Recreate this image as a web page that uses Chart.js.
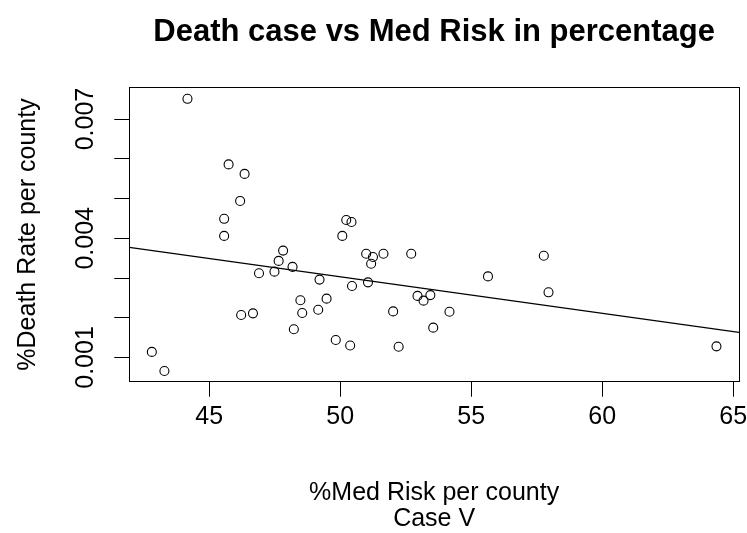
<!DOCTYPE html>
<html>
<head>
<meta charset="utf-8">
<title>Death case vs Med Risk in percentage</title>
<script src="https://cdn.jsdelivr.net/npm/chart.js@4.4.1/dist/chart.umd.min.js"></script>
<style>
	html, body { margin: 0; padding: 0; background: #fff; }
	canvas { display: block; }
</style>
</head>
<body>
<canvas id="risk-chart" width="747" height="533"></canvas>
<script>
// county values: % med risk (x) and % death rate (y)
const medRisk = [
	44.17, 45.74, 46.35, 46.18, 45.57, 45.57, 50.23, 50.43, 50.08, 47.82,
	47.65, 48.18, 46.90, 47.49, 49.21, 50.45, 50.99, 51.25, 51.18, 51.65,
	52.71, 51.06, 52.95, 53.18, 53.44, 48.48, 49.48, 49.16, 48.55, 46.22,
	46.67, 48.23, 49.83, 50.38, 52.23, 52.02, 53.55, 42.81, 43.29, 54.17,
	55.64, 57.77, 57.95, 64.36
];
const deathRate = [
	0.00751, 0.00586, 0.00562, 0.00494, 0.00449, 0.00406, 0.00446, 0.00441, 0.00406, 0.00369,
	0.00343, 0.00328, 0.00312, 0.00316, 0.00296, 0.00280, 0.00361, 0.00353, 0.00336, 0.00361,
	0.00361, 0.00289, 0.00255, 0.00243, 0.00257, 0.00244, 0.00248, 0.00220, 0.00212, 0.00207,
	0.00211, 0.00171, 0.00144, 0.00130, 0.00127, 0.00216, 0.00175, 0.00114, 0.00066, 0.00215,
	0.00304, 0.00356, 0.00264, 0.00128
];

// fitted line, end to end across the plot
const fitX = [41.95, 65.22];
const fitY = [0.00377, 0.00163];

// axes
const xLimits = [41.95, 65.22];
const yLimits = [0.00039, 0.0078];
const xTicks = [45, 50, 55, 60, 65];
const xTickLabels = ['45', '50', '55', '60', '65'];
const yTicks = [0.001, 0.002, 0.003, 0.004, 0.005, 0.006, 0.007];
const yTickLabels = ['0.001', '', '', '0.004', '', '', '0.007'];

const FONT = "'Liberation Sans', Arial, sans-serif";

const points = medRisk.map(function (x, i) {
	return { x: x, y: deathRate[i] };
});
const fitLine = fitX.map(function (x, i) {
	return { x: x, y: fitY[i] };
});

// box round the plotting region
const plotBox = {
	id: 'plotBox',
	afterDraw: function (chart) {
		const a = chart.chartArea;
		const ctx = chart.ctx;
		ctx.save();
		ctx.strokeStyle = '#000';
		ctx.lineWidth = 1;
		ctx.strokeRect(Math.round(a.left) + 0.5, Math.round(a.top) + 0.5,
			Math.round(a.right - a.left), Math.round(a.bottom - a.top));
		ctx.restore();
	}
};

const ctx = document.getElementById('risk-chart').getContext('2d');
const chart = new Chart(ctx, {
	type: 'scatter',
	data: {
		datasets: [{
			label: 'counties',
			data: points,
			pointStyle: 'circle',
			pointRadius: 4.5,
			pointBorderWidth: 1.1,
			borderColor: '#000',
			backgroundColor: 'rgba(0,0,0,0)'
		}, {
			label: 'fit',
			type: 'line',
			data: fitLine,
			showLine: true,
			pointRadius: 0,
			borderWidth: 1.2,
			borderColor: '#000',
			fill: false
		}]
	},
	options: {
		responsive: false,
		animation: false,
		devicePixelRatio: 1,
		layout: { padding: { left: 0, right: 8, top: 0, bottom: 0 } },
		plugins: {
			legend: { display: false },
			tooltip: { enabled: false },
			title: {
				display: true,
				text: 'Death case vs Med Risk in percentage',
				fullSize: false,
				color: '#000',
				font: { family: FONT, size: 31, weight: 'bold', lineHeight: 1.2 },
				padding: { top: 14, bottom: 36.1 }
			}
		},
		scales: {
			x: {
				type: 'linear',
				min: xLimits[0],
				max: xLimits[1],
				afterBuildTicks: function (scale) {
					scale.ticks = xTicks.map(function (v) { return { value: v }; });
				},
				afterFit: function (scale) {
					scale.height = 151.3;
					scale.paddingLeft = 0;
					scale.paddingRight = 0;
				},
				border: { display: false },
				grid: { drawOnChartArea: false, drawTicks: true, tickLength: 15, color: '#000', lineWidth: 1 },
				ticks: {
					color: '#000',
					padding: 5,
					maxRotation: 0,
					autoSkip: false,
					font: { family: FONT, size: 25 },
					callback: function (value, index) { return xTickLabels[index]; }
				},
				title: {
					display: true,
					text: ['%Med Risk per county', 'Case V'],
					color: '#000',
					font: { family: FONT, size: 25, lineHeight: 1.04 },
					padding: { top: 0, bottom: 1 }
				}
			},
			y: {
				type: 'linear',
				min: yLimits[0],
				max: yLimits[1],
				afterBuildTicks: function (scale) {
					scale.ticks = yTicks.map(function (v) { return { value: v }; });
				},
				afterFit: function (scale) {
					scale.width = 129.3;
					scale.paddingTop = 0;
					scale.paddingBottom = 0;
				},
				border: { display: false },
				grid: { drawOnChartArea: false, drawTicks: true, tickLength: 15, color: '#000', lineWidth: 1 },
				ticks: {
					color: '#000',
					padding: -3,
					minRotation: 90,
					maxRotation: 90,
					crossAlign: 'center',
					autoSkip: false,
					font: { family: FONT, size: 25 },
					callback: function (value, index) { return yTickLabels[index]; }
				},
				title: {
					display: true,
					text: '%Death Rate per county',
					color: '#000',
					font: { family: FONT, size: 25, lineHeight: 1.2 },
					padding: { top: 13, bottom: 0 }
				}
			}
		}
	},
	plugins: [plotBox]
});
</script>
</body>
</html>
